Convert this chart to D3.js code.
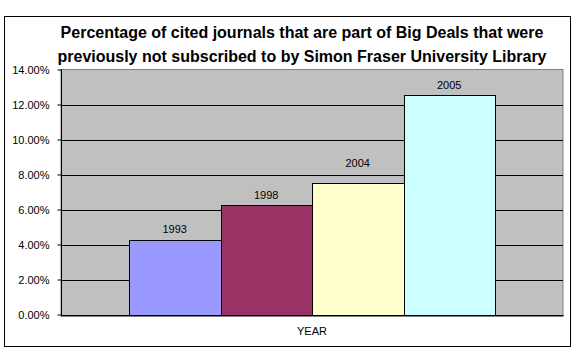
<!DOCTYPE html>
<html>
<head>
<meta charset="utf-8">
<script src="https://cdn.jsdelivr.net/npm/d3@7"></script>
<style>
  body { margin: 0; background: #fff; }
  svg { display: block; font-family: "Liberation Sans", Arial, sans-serif; }
</style>
</head>
<body>
<svg width="584" height="351"></svg>
<script>
// data
let years = ["1993", "1998", "2004", "2005"];
let values = [0.0423, 0.0623, 0.0749, 0.1253];
let barColors = ["#9999FF", "#993366", "#FFFFCC", "#CCFFFF"];
let category = "YEAR";
let titleLines = [
  "Percentage of cited journals that are part of Big Deals that were",
  "previously not subscribed to by Simon Fraser University Library"
];

let svg = d3.select("svg");

// outer chart frame
svg.append("rect")
  .attr("x", 4.5).attr("y", 16.5)
  .attr("width", 566).attr("height", 330)
  .attr("fill", "#fff").attr("stroke", "#000");

let plotLeft = 61, plotRight = 563, plotTop = 69.5, plotBottom = 314.5;

// plot area
svg.append("rect")
  .attr("x", plotLeft).attr("y", plotTop)
  .attr("width", plotRight - plotLeft).attr("height", plotBottom - plotTop + 2)
  .attr("fill", "#C0C0C0").attr("stroke", "#808080");

let y = d3.scaleLinear().domain([0, 0.14]).range([plotBottom, plotTop]);
let ticks = d3.range(0, 0.1401, 0.02);

// gridlines
svg.append("g").selectAll("line")
  .data(ticks.filter(d => d > 0 && d < 0.139))
  .enter().append("line")
  .attr("x1", plotLeft).attr("x2", plotRight)
  .attr("y1", d => Math.round(y(d)) + 0.5).attr("y2", d => Math.round(y(d)) + 0.5)
  .attr("stroke", "#000");

// bars: one category, four series side by side
let xCat = d3.scaleBand().domain([category]).range([plotLeft, plotRight]);
let x = d3.scaleBand().domain(years)
  .range([xCat(category) + 68, xCat(category) + xCat.bandwidth() - 68]);

svg.append("g").selectAll("rect")
  .data(years)
  .enter().append("rect")
  .attr("x", d => Math.round(x(d)) + 0.5)
  .attr("y", (d, i) => Math.round(y(values[i])) + 0.5)
  .attr("width", d => Math.round(x(d) + x.bandwidth()) - Math.round(x(d)))
  .attr("height", (d, i) => Math.round(y(0)) - Math.round(y(values[i])))
  .attr("fill", (d, i) => barColors[i])
  .attr("stroke", "#000");

// bar labels (excel nudged the 2004 label up off the gridline)
let labelLift = [7, 6, 16, 6];
svg.append("g").selectAll("text")
  .data(years)
  .enter().append("text")
  .attr("x", d => x(d) + x.bandwidth() / 2)
  .attr("y", (d, i) => y(values[i]) - labelLift[i])
  .attr("text-anchor", "middle")
  .attr("font-size", 11)
  .text(d => d);

// y axis
let yAxis = d3.axisLeft(y).tickValues(ticks).tickSize(4).tickFormat(d3.format(".2%"));
let ag = svg.append("g").attr("transform", `translate(${plotLeft + 0.5},0)`).call(yAxis);
ag.select(".domain").attr("d", `M0,${plotTop}V${plotBottom + 0.5}`).attr("stroke", "#000");
ag.selectAll(".tick line").attr("stroke", "#000");
ag.selectAll(".tick text")
  .attr("x", -12)
  .attr("font-family", "Liberation Sans, Arial, sans-serif")
  .attr("font-size", 11)
  .attr("fill", "#000");

// zero axis line
svg.append("line")
  .attr("x1", plotLeft).attr("x2", plotRight + 0.5)
  .attr("y1", Math.round(y(0)) + 0.5).attr("y2", Math.round(y(0)) + 0.5)
  .attr("stroke", "#000");

// category label
svg.append("text")
  .attr("x", xCat(category) + xCat.bandwidth() / 2)
  .attr("y", 335)
  .attr("text-anchor", "middle")
  .attr("font-size", 11)
  .text(category);

// title
svg.append("g").selectAll("text")
  .data(titleLines)
  .enter().append("text")
  .attr("x", 302)
  .attr("y", (d, i) => 38 + i * 24)
  .attr("text-anchor", "middle")
  .attr("font-size", 16)
  .attr("font-weight", "bold")
  .text(d => d);
</script>
</body>
</html>
